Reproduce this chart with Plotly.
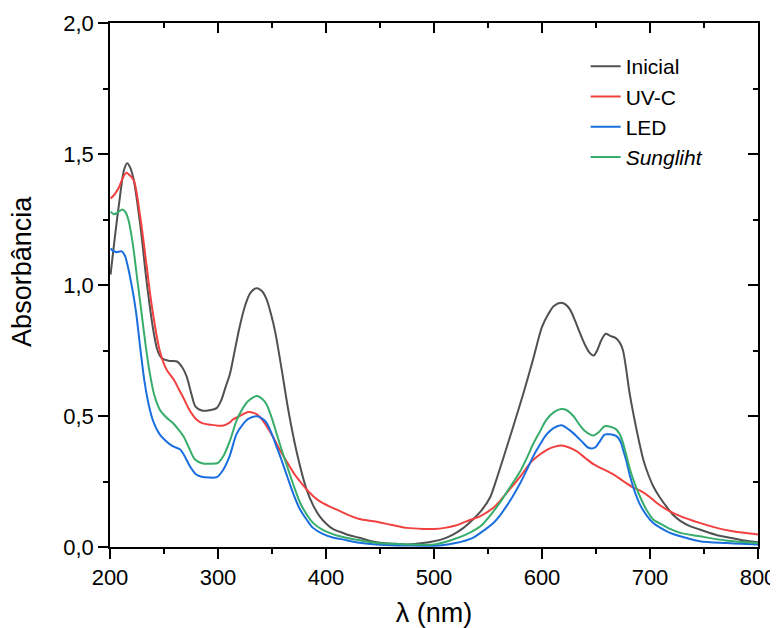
import plotly.graph_objects as go

# ---- data ----
wl_inicial = [200.5, 205, 209, 213, 216, 219, 222, 228, 234, 240, 244, 248, 255, 262, 267, 271, 275, 279, 285,
              292, 299, 303, 307, 311, 316, 320, 325, 330, 336, 341, 345, 349, 353, 359, 365, 373, 382, 388, 394,
              400, 407, 413, 420, 431, 440, 450, 465, 475, 490, 500, 510, 518, 527, 536, 544, 552, 558, 565, 573,
              583, 592, 600, 606, 611, 618, 622, 626, 631, 635, 640, 644, 648, 651, 655, 659, 663, 668, 672, 675,
              678, 681, 685, 690, 694, 699, 703, 709, 716, 722, 728, 737, 746, 760, 774, 787, 800]
a_inicial = [1.04, 1.20, 1.33, 1.44, 1.465, 1.445, 1.40, 1.23, 1.01, 0.83, 0.75, 0.72, 0.71, 0.708, 0.685, 0.65,
             0.59, 0.537, 0.521, 0.522, 0.531, 0.56, 0.61, 0.66, 0.76, 0.84, 0.92, 0.97, 0.988, 0.975, 0.945, 0.89,
             0.82, 0.677, 0.525, 0.36, 0.22, 0.16, 0.118, 0.09, 0.067, 0.058, 0.047, 0.035, 0.024, 0.016, 0.012,
             0.01, 0.015, 0.022, 0.033, 0.048, 0.072, 0.105, 0.14, 0.19, 0.26, 0.35, 0.455, 0.59, 0.72, 0.84,
             0.89, 0.92, 0.932, 0.925, 0.906, 0.86, 0.818, 0.77, 0.742, 0.731, 0.75, 0.79, 0.814, 0.806, 0.798,
             0.78, 0.75, 0.677, 0.59, 0.50, 0.40, 0.33, 0.27, 0.232, 0.19, 0.15, 0.12, 0.10, 0.08, 0.067, 0.048,
             0.035, 0.025, 0.018]

wl_uvc = [200.5, 204, 208, 212, 215, 218, 222, 228, 234, 237, 241, 246, 252, 259, 264, 268, 274, 280, 286, 293,
          300, 305, 310, 314, 320, 328, 333, 336, 341, 345, 351, 357, 363, 370, 376, 382, 388, 394, 403, 413, 422,
          431, 444, 460, 475, 490, 500, 510, 520, 530, 543, 555, 561, 570, 580, 590, 598, 605, 612, 618, 625, 632,
          640, 648, 656, 666, 675, 685, 691, 700, 706, 718, 728, 746, 760, 774, 787, 800]
a_uvc = [1.33, 1.345, 1.37, 1.41, 1.428, 1.42, 1.40, 1.26, 1.07, 0.97, 0.86, 0.75, 0.68, 0.639, 0.60, 0.569, 0.52,
         0.487, 0.472, 0.467, 0.463, 0.464, 0.473, 0.487, 0.50, 0.515, 0.512, 0.506, 0.485, 0.461, 0.42, 0.372,
         0.33, 0.283, 0.25, 0.22, 0.195, 0.175, 0.155, 0.137, 0.12, 0.107, 0.098, 0.085, 0.073, 0.069, 0.069,
         0.073, 0.082, 0.098, 0.118, 0.15, 0.175, 0.22, 0.27, 0.325, 0.353, 0.372, 0.383, 0.387, 0.38, 0.366,
         0.34, 0.315, 0.298, 0.277, 0.252, 0.226, 0.215, 0.19, 0.169, 0.137, 0.118, 0.092, 0.075, 0.062, 0.054,
         0.048]

wl_led = [200.5, 203, 206, 209, 211, 214, 216, 220, 224, 228, 232, 236, 240, 246, 252, 258, 265, 270, 274, 279,
          284, 292, 299, 305, 311, 317, 323, 328, 336, 341, 345, 350, 354, 359, 364, 370, 376, 382, 388, 397, 407,
          413, 431, 450, 475, 505, 520, 536, 543, 555, 561, 567, 573, 580, 586, 592, 598, 604, 611, 618, 625, 632,
          638, 643, 649, 653, 658, 663, 669, 673, 675, 678, 681.5, 686, 691, 697, 703, 709, 718, 728, 746, 770, 800]
a_led = [1.14, 1.13, 1.125, 1.128, 1.128, 1.11, 1.08, 1.00, 0.90, 0.76, 0.63, 0.54, 0.48, 0.43, 0.404, 0.385,
         0.372, 0.34, 0.308, 0.28, 0.269, 0.265, 0.267, 0.296, 0.35, 0.43, 0.468, 0.489, 0.499, 0.49, 0.474, 0.43,
         0.385, 0.33, 0.27, 0.20, 0.143, 0.105, 0.073, 0.05, 0.035, 0.031, 0.016, 0.009, 0.006, 0.006, 0.015,
         0.035, 0.054, 0.092, 0.12, 0.155, 0.194, 0.245, 0.295, 0.347, 0.39, 0.429, 0.455, 0.465, 0.448, 0.423,
         0.398, 0.379, 0.379, 0.40, 0.429, 0.43, 0.423, 0.40, 0.372, 0.33, 0.27, 0.21, 0.16, 0.12, 0.092, 0.075,
         0.055, 0.041, 0.022, 0.015, 0.01]

wl_sun = [200.5, 204, 208, 211.5, 214, 217, 221, 225, 229, 233, 237, 241, 246, 252, 258, 263, 268, 273, 278.7,
          286, 293, 300, 305, 311, 317, 323, 328, 336, 341, 345, 350, 354, 359, 364, 370, 376, 382, 388, 397, 407,
          413, 431, 450, 475, 500, 515, 530, 543, 549, 561, 567, 580, 586, 592, 598, 604, 611, 618, 623, 629, 635,
          640, 647.5, 653, 658, 664, 669, 672, 675, 681.5, 686, 691, 697, 703, 709, 718, 728, 746, 770, 800]
a_sun = [1.28, 1.27, 1.28, 1.288, 1.28, 1.25, 1.16, 1.03, 0.90, 0.77, 0.66, 0.58, 0.525, 0.495, 0.474, 0.45,
         0.423, 0.38, 0.334, 0.319, 0.318, 0.321, 0.347, 0.405, 0.48, 0.53, 0.557, 0.576, 0.565, 0.544, 0.49,
         0.436, 0.37, 0.308, 0.235, 0.169, 0.125, 0.092, 0.065, 0.048, 0.041, 0.026, 0.014, 0.01, 0.01, 0.025,
         0.048, 0.079, 0.105, 0.169, 0.207, 0.29, 0.34, 0.395, 0.44, 0.485, 0.515, 0.527, 0.522, 0.50, 0.465,
         0.442, 0.426, 0.44, 0.461, 0.458, 0.448, 0.43, 0.398, 0.296, 0.24, 0.19, 0.14, 0.105, 0.09, 0.07, 0.054,
         0.041, 0.025, 0.015]

series = [
    ("Inicial", wl_inicial, a_inicial, "#515151"),
    ("UV-C", wl_uvc, a_uvc, "#F14040"),
    ("LED", wl_led, a_led, "#1A6FDF"),
    ("<i>Sungliht</i>", wl_sun, a_sun, "#37AD6B"),
]

x_ticks = [200, 300, 400, 500, 600, 700, 800]
y_ticks = [0.0, 0.5, 1.0, 1.5, 2.0]

FONT = "Liberation Sans, Arial, sans-serif"

fig = go.Figure()
for name, x, y, c in series:
    fig.add_trace(go.Scatter(x=x, y=y, mode="lines", name=name,
                             line=dict(color=c, width=2, shape="spline", smoothing=0.8)))

# invisible copies so that the mirrored (top/right) axes get drawn
fig.add_trace(go.Scatter(x=wl_inicial, y=a_inicial, xaxis="x2", yaxis="y", mode="lines",
                         line=dict(width=0.1, color="rgba(0,0,0,0)"), showlegend=False, hoverinfo="skip"))
fig.add_trace(go.Scatter(x=wl_inicial, y=a_inicial, xaxis="x", yaxis="y2", mode="lines",
                         line=dict(width=0.1, color="rgba(0,0,0,0)"), showlegend=False, hoverinfo="skip"))

axis_common = dict(showline=True, linecolor="black", linewidth=1.5, showgrid=False, zeroline=False,
                   tickcolor="black", tickwidth=1.5, automargin=False)

# page body has an 8px margin: the figure is offset by (8, 8)
fig.update_layout(
    width=770, height=620,
    margin=dict(l=102, r=20, t=15, b=81),
    plot_bgcolor="white", paper_bgcolor="white",
    separators=", ",
    font=dict(family=FONT, size=22, color="black"),
    xaxis=dict(range=[200, 800], tickvals=x_ticks, ticks="outside", ticklen=10,
               minor=dict(ticks="outside", ticklen=5, dtick=50, tickcolor="black", tickwidth=1.5),
               title=dict(text="λ (nm)", font=dict(size=27), standoff=14),
               tickfont=dict(size=22), **axis_common),
    yaxis=dict(range=[0, 2], tickvals=y_ticks, tickformat=".1f", ticks="outside", ticklen=10,
               minor=dict(ticks="outside", ticklen=5, dtick=0.25, tickcolor="black", tickwidth=1.5),
               tickfont=dict(size=22), **axis_common),
    xaxis2=dict(range=[200, 800], overlaying="x", side="top", anchor="y", tickvals=x_ticks, ticks="inside",
                ticklen=10, showticklabels=False,
                minor=dict(ticks="inside", ticklen=5, dtick=50, tickcolor="black", tickwidth=1.5),
                **axis_common),
    yaxis2=dict(range=[0, 2], overlaying="y", side="right", anchor="x", tickvals=y_ticks, ticks="inside",
                ticklen=10, showticklabels=False,
                minor=dict(ticks="inside", ticklen=5, dtick=0.25, tickcolor="black", tickwidth=1.5),
                **axis_common),
    legend=dict(x=0.734, y=0.956, xanchor="left", yanchor="top", bgcolor="rgba(0,0,0,0)",
                font=dict(size=21), tracegroupgap=0),
    annotations=[dict(text="Absorbância", textangle=-90, xref="paper", yref="paper",
                      x=-0.135, y=0.526, xanchor="center", yanchor="middle", showarrow=False,
                      font=dict(size=27))],
)

fig.write_html("out.html")
